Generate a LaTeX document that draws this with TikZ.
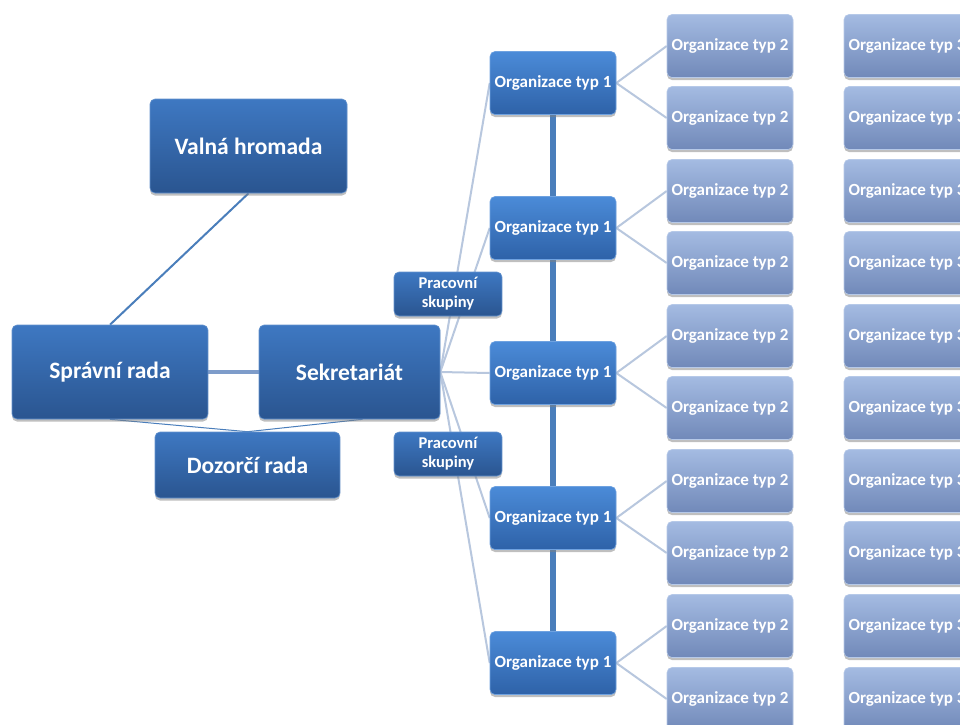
\documentclass[tikz,border=0pt]{standalone}
\usepackage{fontspec}
\setmainfont{Carlito}
\usetikzlibrary{shadows,backgrounds,calc}

\definecolor{boxtop}{HTML}{3E78C2}
\definecolor{boxbot}{HTML}{2A5590}
\definecolor{orgtop}{HTML}{4B8BD8}
\definecolor{orgbot}{HTML}{2E62A8}
\definecolor{subtop}{HTML}{A4BBE2}
\definecolor{subbot}{HTML}{7189B9}
\definecolor{lightline}{HTML}{B8C7DE}
\definecolor{midline}{HTML}{4A7EBB}
\definecolor{steelline}{HTML}{7E9CCA}

\tikzset{
  box/.style={rounded corners=5pt, text=white, font=\bfseries, align=center,
    inner sep=0pt, draw=#1!80!white, line width=0.6pt,
    drop shadow={shadow xshift=0pt, shadow yshift=-2.5pt, opacity=0.5}},
  mainbox/.style={box=boxtop, top color=boxtop, bottom color=boxbot,
    minimum width=196pt, minimum height=94pt, font=\bfseries\fontsize{23.5}{28}\selectfont},
  groupbox/.style={box=boxtop, top color=boxtop, bottom color=boxbot,
    minimum width=108pt, minimum height=44pt, font=\bfseries\fontsize{16.5}{19}\selectfont},
  orgone/.style={box=orgtop, top color=orgtop, bottom color=orgbot,
    minimum width=126pt, minimum height=63pt, font=\bfseries\fontsize{17}{20}\selectfont},
  orgsub/.style={box=subtop, top color=subtop, bottom color=subbot,
    minimum width=126pt, minimum height=63pt, font=\bfseries\fontsize{17}{20}\selectfont},
  fanline/.style={draw=lightline, line width=2pt},
}

\begin{document}
\begin{tikzpicture}[x=1pt, y=-1pt]
\clip (0,0) rectangle (960,724);

% governing bodies
\node[mainbox, minimum width=197pt] (vh) at (248.5,146) {Valná hromada};
\node[mainbox] (sr) at (110,372) {Správní rada};
\node[mainbox, minimum width=181pt] (sek) at (349.5,372) {Sekretariát};
\node[mainbox, minimum width=185pt, minimum height=66pt] (dr) at (247.5,465) {Dozorčí rada};

% working groups
\node[groupbox] (pg1) at (448,294) {Pracovní\\skupiny};
\node[groupbox] (pg2) at (448,454) {Pracovní\\skupiny};

% first-level organisations
\foreach \i/\y in {1/83,2/228,3/373,4/518,5/663}
  \node[orgone] (o\i) at (553,\y) {Organizace typ 1};

% second- and third-level organisations
\foreach \j/\y in {1/46,2/118,3/191,4/263,5/336,6/408,7/481,8/553,9/626,10/699} {
  \node[orgsub] (t\j) at (730,\y) {Organizace typ 2};
  \node[orgsub] (u\j) at (907,\y) {Organizace typ 3};
}

\begin{pgfonlayer}{background}
  \fill[white] (0,0) rectangle (960,724);
  % links between the bodies
  \draw[midline, line width=2pt] (vh.south) -- (sr.north);
  \draw[steelline, line width=4pt] (sr.east) -- (sek.west);
  \draw[midline, line width=1pt] (sr.south) -- (dr.north) -- ($(sek.south)+(13,0)$);
  % fan from the secretariat
  \foreach \i in {1,...,5}
    \draw[fanline] (sek.east) -- (o\i.west);
  % spine through the first-level organisations
  \draw[midline, line width=6pt] (o1.center) -- (o5.center);
  % branches to the second level
  \foreach \i/\a/\b in {1/1/2,2/3/4,3/5/6,4/7/8,5/9/10} {
    \draw[fanline] (o\i.east) -- (t\a.west);
    \draw[fanline] (o\i.east) -- (t\b.west);
  }
\end{pgfonlayer}
\end{tikzpicture}
\end{document}
